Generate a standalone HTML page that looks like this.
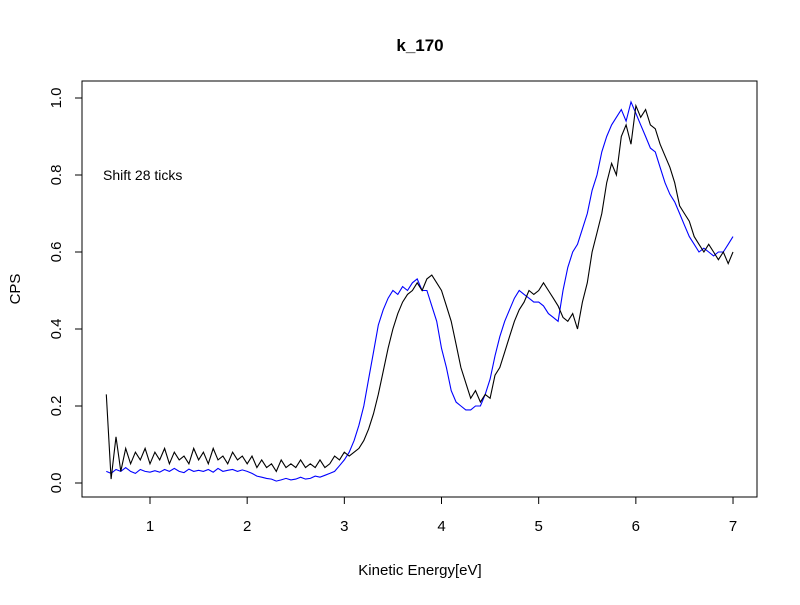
<!DOCTYPE html>
<html><head><meta charset="utf-8"><style>body{margin:0;background:#fff}svg{font-family:"Liberation Sans",Arial,sans-serif}</style></head>
<body>
<svg id="chart" width="800" height="600">
<text x="420" y="51" text-anchor="middle" font-size="17" font-weight="bold">k_170</text>
<rect x="82" y="81" width="675" height="416" fill="none" stroke="#000"/>
<text x="420" y="575" text-anchor="middle" font-size="15">Kinetic Energy[eV]</text>
<text x="0" y="0" transform="translate(20,289) rotate(-90)" text-anchor="middle" font-size="15">CPS</text>
<text x="103" y="180" font-size="14">Shift 28 ticks</text>
<g id="axes"></g>
<g id="series"></g>
</svg>
<script>
const xTicks=[1,2,3,4,5,6,7];
const yTicks=[0,0.2,0.4,0.6,0.8,1.0];
const yTickLabels=["0.0","0.2","0.4","0.6","0.8","1.0"];
const xStart=0.55, xStep=0.05;
const blueValues=[.03,.025,.035,.03,.04,.03,.025,.035,.03,.028,
.032,.028,.035,.03,.038,.03,.027,.036,.03,.033,
.03,.035,.028,.038,.03,.033,.035,.03,.034,.03,
.025,.018,.015,.012,.01,.005,.008,.012,.008,.01,
.015,.01,.012,.018,.015,.02,.025,.03,.045,.06,
.08,.11,.15,.2,.27,.34,.41,.45,.48,.5,
.49,.51,.5,.52,.53,.5,.5,.46,.42,.35,
.3,.24,.21,.2,.19,.19,.2,.2,.23,.27,
.33,.38,.42,.45,.48,.5,.49,.48,.47,.47,
.46,.44,.43,.42,.5,.56,.6,.62,.66,.7,
.76,.8,.86,.9,.93,.95,.97,.94,.99,.96,
.93,.9,.87,.86,.82,.78,.75,.73,.7,.67,
.64,.62,.6,.61,.6,.59,.6,.6,.62,.64];
const blackValues=[.23,.01,.12,.03,.09,.05,.08,.06,.09,.05,
.08,.06,.09,.05,.08,.06,.07,.05,.09,.06,
.08,.05,.09,.06,.07,.05,.08,.06,.07,.05,
.07,.04,.06,.04,.05,.03,.06,.04,.05,.04,
.06,.04,.05,.04,.06,.04,.05,.07,.06,.08,
.07,.08,.09,.11,.14,.18,.23,.29,.35,.4,
.44,.47,.49,.5,.52,.5,.53,.54,.52,.5,
.46,.42,.36,.3,.26,.22,.24,.21,.23,.22,
.28,.3,.34,.38,.42,.45,.47,.5,.49,.5,
.52,.5,.48,.46,.43,.42,.44,.4,.47,.52,
.6,.65,.7,.78,.83,.8,.9,.93,.88,.98,
.95,.97,.93,.92,.88,.85,.82,.78,.72,.7,
.68,.64,.62,.6,.62,.6,.58,.6,.57,.6];
const NS="http://www.w3.org/2000/svg";
const sx=v=>150+(v-1)*97.17;
const sy=v=>483-v*385;
const axes=document.getElementById('axes');
function mk(tag,attrs,parent){const e=document.createElementNS(NS,tag);for(const k in attrs)e.setAttribute(k,attrs[k]);parent.appendChild(e);return e;}
mk('line',{x1:sx(1),x2:sx(7),y1:497,y2:497,stroke:'#000'},axes);
xTicks.forEach(t=>{
  const l=mk('line',{x1:sx(t),x2:sx(t),y1:497,y2:504,stroke:'#000'},axes);
  
  
  const tx=mk('text',{x:sx(t),y:531,'text-anchor':'middle','font-size':15},axes);
  tx.textContent=t;
  
  
});
mk('line',{x1:82,x2:82,y1:sy(0),y2:sy(1),stroke:'#000'},axes);
yTicks.forEach((t,i)=>{
  const l=mk('line',{x1:75,x2:82,y1:sy(t),y2:sy(t),stroke:'#000'},axes);
  
  
  const tx=mk('text',{x:0,y:0,transform:`translate(61,${sy(t)}) rotate(-90)`,'text-anchor':'middle','font-size':15},axes);
  tx.textContent=yTickLabels[i];
  
  
});
const series=document.getElementById('series');
function line(vals,color,name){
  const pts=vals.map((v,i)=>sx(xStart+i*xStep).toFixed(1)+','+sy(v).toFixed(1)).join(' ');
  const p=mk('polyline',{points:pts,fill:'none',stroke:color,'stroke-width':1.1},series);
  
  
}
line(blueValues,'#0000ff','blue-series-line');
line(blackValues,'#000000','black-series-line');
</script>
</body></html>
